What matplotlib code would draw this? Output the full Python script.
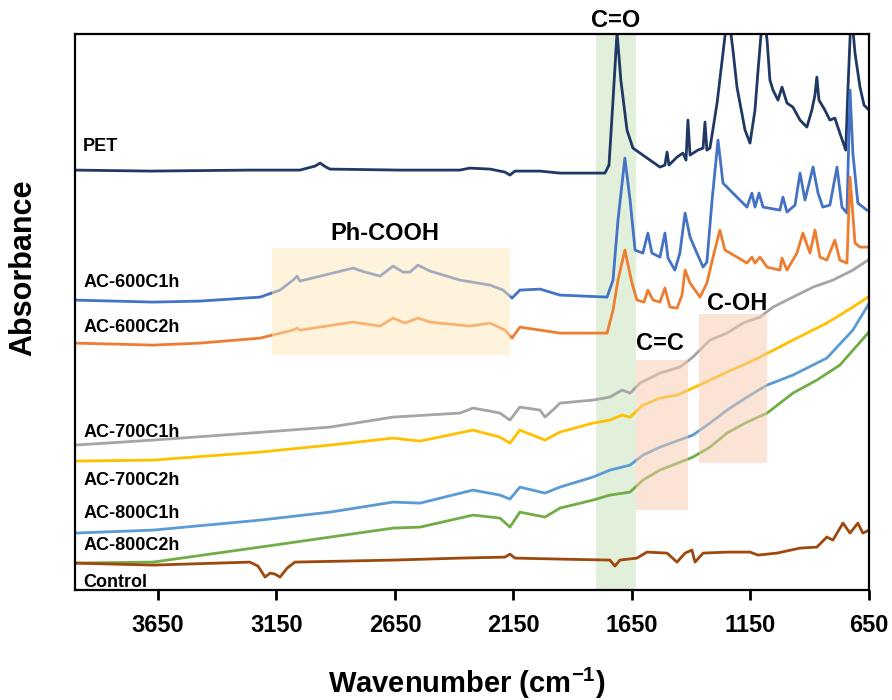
import numpy as np
import matplotlib
matplotlib.use("Agg")
import matplotlib.pyplot as plt
from matplotlib.patches import Rectangle

plt.rcParams["font.family"] = ["Liberation Sans", "DejaVu Sans"]
plt.rcParams["font.weight"] = "bold"
plt.rcParams["mathtext.fontset"] = "custom"
plt.rcParams["mathtext.rm"] = "Liberation Sans:bold"
plt.rcParams["mathtext.bf"] = "Liberation Sans:bold"

# FTIR spectra, stacked with offsets: (wavenumber cm-1, absorbance a.u.)
pet = [(4000, 4.20), (3684, 4.19), (3262, 4.20), (3051, 4.20), (2987, 4.24), (2966, 4.27),
       (2941, 4.23), (2924, 4.21), (2629, 4.20), (2376, 4.20), (2334, 4.22), (2249, 4.21),
       (2186, 4.18), (2165, 4.15), (2144, 4.19), (2038, 4.19), (1954, 4.17), (1764, 4.17),
       (1747, 4.25), (1730, 4.90), (1713, 5.58), (1697, 5.10), (1671, 4.60), (1646, 4.42),
       (1616, 4.37), (1574, 4.30), (1532, 4.23), (1511, 4.25), (1502, 4.38), (1494, 4.25),
       (1460, 4.33), (1435, 4.37), (1422, 4.30), (1414, 4.70), (1405, 4.35), (1372, 4.40),
       (1350, 4.42), (1342, 4.68), (1334, 4.40), (1321, 4.42), (1291, 4.87), (1266, 5.37),
       (1245, 5.80), (1224, 5.40), (1207, 5.03), (1173, 4.60), (1152, 4.47), (1131, 4.80),
       (1118, 5.20), (1097, 5.80), (1080, 5.50), (1068, 5.10), (1055, 5.00), (1034, 4.90),
       (1017, 5.03), (996, 4.87), (971, 4.83), (941, 4.70), (912, 4.63), (891, 4.80),
       (878, 4.95), (870, 5.13), (861, 4.90), (836, 4.80), (815, 4.70), (794, 4.72),
       (773, 4.57), (748, 4.40), (739, 5.00), (725, 5.80), (709, 5.37), (688, 5.03),
       (671, 4.85), (650, 4.80)]

ac600_1h = [(4000, 2.90), (3671, 2.88), (3473, 2.89), (3219, 2.93), (3135, 3.00), (3080, 3.10),
            (3063, 3.14), (3051, 3.09), (2827, 3.22), (2777, 3.18), (2713, 3.14), (2658, 3.24),
            (2616, 3.18), (2587, 3.18), (2553, 3.25), (2502, 3.19), (2376, 3.10), (2249, 3.05),
            (2194, 3.00), (2156, 2.92), (2123, 3.00), (2038, 3.01), (1954, 2.95), (1755, 2.93),
            (1730, 3.10), (1709, 3.70), (1680, 4.32), (1658, 3.90), (1637, 3.40), (1604, 3.37),
            (1583, 3.57), (1566, 3.37), (1532, 3.33), (1511, 3.57), (1498, 3.32), (1469, 3.20),
            (1448, 3.37), (1426, 3.77), (1405, 3.53), (1376, 3.37), (1350, 3.23), (1334, 3.28),
            (1312, 3.90), (1287, 4.50), (1266, 4.07), (1224, 3.97), (1165, 3.83), (1144, 3.97),
            (1131, 3.83), (1114, 3.97), (1097, 3.83), (1026, 3.80), (1013, 3.93), (996, 3.78),
            (962, 3.85), (941, 4.17), (920, 3.90), (886, 4.23), (865, 3.97), (845, 3.83),
            (815, 3.85), (785, 4.23), (764, 3.83), (743, 3.77), (730, 5.00), (718, 4.37),
            (697, 3.87), (659, 3.80)]

ac600_2h = [(4000, 2.47), (3671, 2.45), (3473, 2.47), (3219, 2.52), (3080, 2.60), (3063, 2.62),
            (3051, 2.60), (2827, 2.68), (2713, 2.64), (2658, 2.72), (2608, 2.67), (2553, 2.72),
            (2502, 2.68), (2334, 2.64), (2249, 2.67), (2186, 2.60), (2156, 2.52), (2123, 2.63),
            (2038, 2.60), (1954, 2.57), (1755, 2.57), (1730, 2.80), (1709, 3.10), (1680, 3.40),
            (1650, 3.07), (1629, 2.90), (1599, 2.88), (1583, 3.00), (1561, 2.90), (1532, 2.88),
            (1511, 3.02), (1490, 2.83), (1460, 2.82), (1439, 2.95), (1426, 3.20), (1405, 3.07),
            (1363, 2.93), (1334, 3.07), (1308, 3.33), (1279, 3.60), (1258, 3.40), (1207, 3.33),
            (1165, 3.27), (1144, 3.33), (1131, 3.27), (1110, 3.33), (1080, 3.23), (1026, 3.20),
            (1017, 3.32), (996, 3.20), (954, 3.37), (929, 3.57), (899, 3.37), (878, 3.60),
            (857, 3.33), (828, 3.30), (794, 3.50), (773, 3.30), (743, 3.27), (730, 4.13),
            (709, 3.47), (688, 3.43), (659, 3.43)]

ac700_1h = [(4000, 1.45), (3671, 1.50), (3262, 1.57), (2924, 1.63), (2658, 1.73), (2376, 1.77),
            (2321, 1.82), (2249, 1.79), (2207, 1.77), (2165, 1.70), (2123, 1.83), (2038, 1.80),
            (2017, 1.73), (1975, 1.82), (1954, 1.87), (1815, 1.90), (1743, 1.93), (1692, 2.00),
            (1658, 1.97), (1616, 2.07), (1532, 2.17), (1448, 2.23), (1393, 2.33), (1321, 2.50),
            (1249, 2.57), (1182, 2.67), (1110, 2.73), (1055, 2.83), (971, 2.93), (886, 3.03),
            (802, 3.10), (718, 3.20), (654, 3.30)]

ac700_2h = [(4000, 1.29), (3671, 1.30), (3219, 1.38), (2924, 1.45), (2658, 1.52), (2544, 1.49),
            (2321, 1.60), (2207, 1.53), (2165, 1.47), (2123, 1.60), (2017, 1.50), (1954, 1.58),
            (1815, 1.67), (1743, 1.70), (1692, 1.75), (1658, 1.73), (1604, 1.85), (1532, 1.92),
            (1460, 1.95), (1393, 2.02), (1321, 2.10), (1249, 2.18), (1182, 2.25), (1110, 2.33),
            (971, 2.50), (828, 2.67), (718, 2.83), (654, 2.93)]

ac800_1h = [(4000, 0.57), (3671, 0.60), (3219, 0.70), (2924, 0.78), (2658, 0.88), (2544, 0.87),
            (2321, 1.00), (2207, 0.95), (2165, 0.91), (2123, 1.03), (2017, 0.97), (1954, 1.03),
            (1815, 1.13), (1743, 1.20), (1658, 1.25), (1604, 1.35), (1532, 1.43), (1393, 1.55),
            (1321, 1.67), (1249, 1.80), (1165, 1.93), (1080, 2.05), (971, 2.15), (828, 2.32),
            (718, 2.60), (654, 2.85)]

ac800_2h = [(4000, 0.27), (3671, 0.28), (3219, 0.43), (2924, 0.53), (2658, 0.62), (2544, 0.63),
            (2321, 0.75), (2207, 0.72), (2165, 0.63), (2123, 0.78), (2017, 0.73), (1954, 0.82),
            (1815, 0.90), (1743, 0.95), (1658, 0.98), (1604, 1.10), (1532, 1.20), (1393, 1.33),
            (1321, 1.43), (1249, 1.57), (1165, 1.68), (1080, 1.77), (971, 1.97), (870, 2.10),
            (773, 2.25), (654, 2.57)]

control = [(4000, 0.27), (3671, 0.25), (3262, 0.28), (3228, 0.24), (3198, 0.13), (3177, 0.17),
           (3156, 0.16), (3135, 0.13), (3105, 0.22), (3072, 0.28), (2658, 0.30), (2376, 0.32),
           (2186, 0.33), (2165, 0.36), (2144, 0.32), (1954, 0.31), (1743, 0.30), (1722, 0.24),
           (1701, 0.30), (1629, 0.32), (1587, 0.38), (1502, 0.37), (1460, 0.28), (1426, 0.37),
           (1397, 0.40), (1384, 0.28), (1350, 0.37), (1249, 0.38), (1152, 0.38), (1118, 0.35),
           (1038, 0.37), (941, 0.42), (870, 0.43), (828, 0.53), (802, 0.50), (760, 0.67),
           (730, 0.57), (697, 0.67), (676, 0.57), (650, 0.60)]

names = ["PET", "AC-600C1h", "AC-600C2h", "AC-700C1h", "AC-700C2h",
         "AC-800C1h", "AC-800C2h", "Control"]
spectra = [pet, ac600_1h, ac600_2h, ac700_1h, ac700_2h, ac800_1h, ac800_2h, control]
colors = ["#203864", "#4472C4", "#ED7D31", "#A5A5A5", "#FFC000",
          "#5B9BD5", "#70AD47", "#9E480E"]
label_y = [4.44, 3.08, 2.63, 1.58, 1.10, 0.77, 0.45, 0.08]

# highlighted bands: (label, x from, x to, y from, y to, colour, alpha, z)
bands = [("Ph-COOH", 3169, 2165, 2.35, 3.42, "#FFE9B8", 0.5, 3),
         ("C=O", 1802, 1633, 0.0, 5.56, "#E2EFDA", 1.0, 1),
         ("C=C", 1633, 1414, 0.80, 2.30, "#F8CBAD", 0.5, 3),
         ("C-OH", 1367, 1080, 1.27, 2.76, "#F8CBAD", 0.5, 3)]
band_label_pos = [(2692, 3.57), (1717, 5.70), (1532, 2.47), (1207, 2.87)]

fig = plt.figure(figsize=(8.92, 7.0), dpi=100)
ax = fig.add_axes([0.0841, 0.157, 0.8901, 0.7943])

for data, col in zip(spectra, colors):
    wn, ab = np.array(data).T
    ax.plot(wn, ab, color=col, lw=2.0, zorder=2, solid_joinstyle="round")

for (name, x0, x1, y0, y1, col, a, z), (tx, ty) in zip(bands, band_label_pos):
    ax.add_patch(Rectangle((x1, y0), x0 - x1, y1 - y0, facecolor=col,
                           edgecolor="none", alpha=a, zorder=z))
    ax.text(tx, ty, name, ha="center", va="center", fontsize=17,
            fontweight="bold", clip_on=False, zorder=4)

for name, y in zip(names, label_y):
    ax.text(3966, y, name, ha="left", va="center", fontsize=13, fontweight="bold", zorder=4)

ax.set_xlim(4000, 650)
ax.set_ylim(0, 5.56)
ax.set_xticks([3650, 3150, 2650, 2150, 1650, 1150, 650])
ax.set_yticks([])
ax.tick_params(axis="x", direction="out", length=7, width=2, labelsize=17, pad=10)
for lab in ax.get_xticklabels():
    lab.set_fontweight("bold")
for sp in ax.spines.values():
    sp.set_linewidth(1.6)
    sp.set_color("black")

fig.text(23 / 892, 1 - 268 / 700, "Absorbance", rotation=90, ha="center", va="center",
         fontsize=22, fontweight="bold")
fig.text(467 / 892, 1 - 683 / 700, r"Wavenumber (cm$^{\mathbf{-1}}$)", ha="center",
         va="center", fontsize=21, fontweight="bold")

fig.savefig("out.png", dpi=100)
